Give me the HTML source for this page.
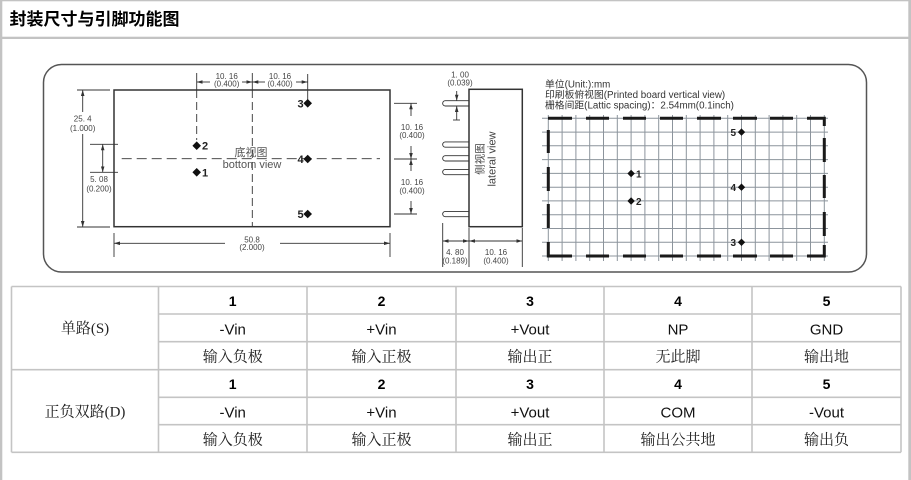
<!DOCTYPE html>
<html><head><meta charset="utf-8"><style>
html,body{margin:0;padding:0;background:#fff;}
body{width:911px;height:480px;overflow:hidden;position:relative;}
svg{position:absolute;left:0;top:0;}
.d{font-family:"Liberation Sans",sans-serif;font-size:8px;fill:#444;text-anchor:middle;}
.p{font-family:"Liberation Sans",sans-serif;font-size:11px;font-weight:bold;fill:#222;}
.n{font-family:"Liberation Sans",sans-serif;font-size:14px;font-weight:bold;fill:#000;text-anchor:middle;}
.t{font-family:"Liberation Sans",sans-serif;font-size:15px;fill:#111;text-anchor:middle;}
.c{font-family:"Liberation Serif","Noto Serif CJK SC",serif;font-size:15px;fill:#222;text-anchor:middle;}
.g{font-family:"Liberation Sans","Noto Sans CJK SC",sans-serif;font-size:9.8px;fill:#333;}
</style></head><body>
<svg width="911" height="480" viewBox="0 0 911 480" xmlns="http://www.w3.org/2000/svg">
<defs>
<marker id="a" viewBox="0 0 10 6" refX="10" refY="3" markerWidth="6" markerHeight="3.6" markerUnits="userSpaceOnUse" orient="auto-start-reverse"><path d="M0,0L10,3L0,6z" fill="#333"/></marker>
</defs>
<!-- frame -->
<rect x="0" y="0" width="2.3" height="480" fill="#c3c3c3"/>
<rect x="908.3" y="0" width="2.7" height="480" fill="#c3c3c3"/>
<rect x="0" y="0" width="911" height="1.3" fill="#c3c3c3"/>
<rect x="0" y="36.7" width="911" height="2.3" fill="#c3c3c3"/>
<text x="9.5" y="25" font-family="'Liberation Sans','Noto Sans CJK SC',sans-serif" font-size="17" font-weight="bold" fill="#000">封装尺寸与引脚功能图</text>

<!-- outer rounded box -->
<rect x="43.5" y="64.5" width="823" height="207.5" rx="18" ry="18" fill="none" stroke="#555" stroke-width="1.5"/>

<!-- bottom view module -->
<rect x="114" y="90" width="276" height="136.7" fill="none" stroke="#333" stroke-width="1.5"/>
<g stroke="#333" stroke-width="0.9" fill="none">
 <line x1="77" y1="90" x2="110" y2="90"/>
 <line x1="77" y1="227" x2="110" y2="227"/>
 <line x1="82.7" y1="112" x2="82.7" y2="90" marker-end="url(#a)"/>
 <line x1="82.7" y1="134" x2="82.7" y2="227" marker-end="url(#a)"/>
 <line x1="90" y1="144.3" x2="118" y2="144.3"/>
 <line x1="90" y1="172.3" x2="118" y2="172.3"/>
 <line x1="102.7" y1="144.3" x2="102.7" y2="172.3" marker-start="url(#a)" marker-end="url(#a)"/>
 <line x1="196.7" y1="73" x2="196.7" y2="90"/>
 <line x1="196.7" y1="90" x2="196.7" y2="140" stroke-dasharray="8 4"/>
 <line x1="252.3" y1="73" x2="252.3" y2="90"/>
 <line x1="252.3" y1="90" x2="252.3" y2="227" stroke-dasharray="8 4"/>
 <line x1="307.7" y1="74" x2="307.7" y2="103"/>
 <line x1="210" y1="82" x2="196.7" y2="82" marker-end="url(#a)"/>
 <line x1="242" y1="82" x2="252.3" y2="82" marker-end="url(#a)"/>
 <line x1="265" y1="82" x2="252.3" y2="82" marker-end="url(#a)"/>
 <line x1="296" y1="82" x2="307.7" y2="82" marker-end="url(#a)"/>
 <line x1="121.7" y1="158.7" x2="380" y2="158.7" stroke-dasharray="10 5"/>
 <line x1="394" y1="103.3" x2="417" y2="103.3"/>
 <line x1="394" y1="159" x2="417" y2="159"/>
 <line x1="394" y1="214" x2="417" y2="214"/>
 <line x1="411" y1="116" x2="411" y2="103.3" marker-end="url(#a)"/>
 <line x1="411" y1="146" x2="411" y2="159" marker-end="url(#a)"/>
 <line x1="411" y1="171" x2="411" y2="159" marker-end="url(#a)"/>
 <line x1="411" y1="201" x2="411" y2="214" marker-end="url(#a)"/>
 <line x1="114" y1="233" x2="114" y2="257"/>
 <line x1="390" y1="233" x2="390" y2="257"/>
 <line x1="225" y1="243.3" x2="114" y2="243.3" marker-end="url(#a)"/>
 <line x1="280" y1="243.3" x2="390" y2="243.3" marker-end="url(#a)"/>
</g>
<text class="d" x="82.7" y="121.5">25. 4</text>
<text class="d" x="82.7" y="131">(1.000)</text>
<text class="d" x="99" y="182">5. 08</text>
<text class="d" x="99" y="191.7">(0.200)</text>
<text class="d" x="226.7" y="79">10. 16</text>
<text class="d" x="226.7" y="86.5">(0.400)</text>
<text class="d" x="280" y="79">10. 16</text>
<text class="d" x="280" y="86.5">(0.400)</text>
<text class="d" x="412" y="130">10. 16</text>
<text class="d" x="412" y="138">(0.400)</text>
<text class="d" x="412" y="185">10. 16</text>
<text class="d" x="412" y="193.3">(0.400)</text>
<text class="d" x="252" y="242.7">50.8</text>
<text class="d" x="252" y="250">(2.000)</text>
<text x="251" y="156" font-family="'Liberation Sans','Noto Sans CJK SC',sans-serif" font-size="11" fill="#555" text-anchor="middle">底视图</text>
<text x="252" y="168" font-family="'Liberation Sans',sans-serif" font-size="11" fill="#555" text-anchor="middle">bottom view</text>
<g fill="#111">
 <polygon points="196.7,141.4 201,145.7 196.7,150 192.4,145.7"/><circle cx="196.7" cy="145.7" r="2.8"/>
 <polygon points="196.7,168 201,172.3 196.7,176.6 192.4,172.3"/><circle cx="196.7" cy="172.3" r="2.8"/>
 <polygon points="307.7,99 312,103.3 307.7,107.6 303.4,103.3"/><circle cx="307.7" cy="103.3" r="2.8"/>
 <polygon points="307.7,154.7 312,159 307.7,163.3 303.4,159"/><circle cx="307.7" cy="159" r="2.8"/>
 <polygon points="307.7,209.7 312,214 307.7,218.3 303.4,214"/><circle cx="307.7" cy="214" r="2.8"/>
</g>
<text class="p" x="202" y="149.5">2</text>
<text class="p" x="202" y="176.5">1</text>
<text class="p" x="297.5" y="107.5">3</text>
<text class="p" x="297.5" y="163">4</text>
<text class="p" x="297.5" y="218">5</text>

<!-- lateral view -->
<g stroke="#333" stroke-width="0.9" fill="#fff">
 <path d="M469,100.7 H445.3 A2.65,2.65 0 0 0 445.3,106 H469"/>
 <path d="M469,141.9 H445.3 A2.65,2.65 0 0 0 445.3,147.2 H469"/>
 <path d="M469,155.7 H445.3 A2.65,2.65 0 0 0 445.3,161 H469"/>
 <path d="M469,169.4 H445.3 A2.65,2.65 0 0 0 445.3,174.7 H469"/>
 <path d="M469,211.4 H445.3 A2.65,2.65 0 0 0 445.3,216.7 H469"/>
</g>
<rect x="469" y="89.3" width="53.3" height="137.4" fill="none" stroke="#333" stroke-width="1.5"/>
<g stroke="#333" stroke-width="0.9" fill="none">
 <line x1="456.7" y1="91" x2="456.7" y2="100.7" marker-end="url(#a)"/>
 <line x1="456.7" y1="120" x2="456.7" y2="106" marker-end="url(#a)"/>
 <line x1="453" y1="120" x2="460" y2="120"/>
 <line x1="442.7" y1="223" x2="442.7" y2="267"/>
 <line x1="469" y1="228" x2="469" y2="267"/>
 <line x1="522.3" y1="228" x2="522.3" y2="267"/>
 <line x1="442.7" y1="241" x2="469" y2="241" marker-start="url(#a)" marker-end="url(#a)"/>
 <line x1="469" y1="241" x2="522.3" y2="241" marker-start="url(#a)" marker-end="url(#a)"/>
</g>
<text class="d" x="460" y="77.5">1. 00</text>
<text class="d" x="460" y="85.5">(0.039)</text>
<text class="d" x="455" y="255">4. 80</text>
<text class="d" x="455" y="263.5">(0.189)</text>
<text class="d" x="496" y="255">10. 16</text>
<text class="d" x="496" y="263.5">(0.400)</text>
<text transform="translate(480.3,159) rotate(-90)" x="0" y="0" dominant-baseline="central" text-anchor="middle" font-family="'Liberation Sans','Noto Sans CJK SC',sans-serif" font-size="10.5" fill="#444">侧视图</text>
<text transform="translate(492.5,159) rotate(-90)" x="0" y="0" dominant-baseline="central" text-anchor="middle" font-family="'Liberation Sans',sans-serif" font-size="11" fill="#444">lateral view</text>

<!-- grid texts -->
<text class="g" x="545" y="87.5">单位(Unit:):mm</text>
<text class="g" x="545" y="98">印刷板俯视图(Printed board vertical view)</text>
<text class="g" x="545" y="108.5">栅格间距(Lattic spacing)：2.54mm(0.1inch)</text>

<!-- grid -->
<g stroke="#8c949c" stroke-width="1">
 <line x1="548.3" y1="115" x2="548.3" y2="261"/>
 <line x1="562.1" y1="115" x2="562.1" y2="261"/>
 <line x1="575.9" y1="115" x2="575.9" y2="261"/>
 <line x1="589.7" y1="115" x2="589.7" y2="261"/>
 <line x1="603.5" y1="115" x2="603.5" y2="261"/>
 <line x1="617.3" y1="115" x2="617.3" y2="261"/>
 <line x1="631.1" y1="115" x2="631.1" y2="261"/>
 <line x1="644.9" y1="115" x2="644.9" y2="261"/>
 <line x1="658.7" y1="115" x2="658.7" y2="261"/>
 <line x1="672.5" y1="115" x2="672.5" y2="261"/>
 <line x1="686.3" y1="115" x2="686.3" y2="261"/>
 <line x1="700.1" y1="115" x2="700.1" y2="261"/>
 <line x1="713.9" y1="115" x2="713.9" y2="261"/>
 <line x1="727.7" y1="115" x2="727.7" y2="261"/>
 <line x1="741.5" y1="115" x2="741.5" y2="261"/>
 <line x1="755.3" y1="115" x2="755.3" y2="261"/>
 <line x1="769.1" y1="115" x2="769.1" y2="261"/>
 <line x1="782.9" y1="115" x2="782.9" y2="261"/>
 <line x1="796.7" y1="115" x2="796.7" y2="261"/>
 <line x1="810.5" y1="115" x2="810.5" y2="261"/>
 <line x1="824.3" y1="115" x2="824.3" y2="261"/>
 <line x1="542" y1="118.3" x2="828" y2="118.3"/>
 <line x1="542" y1="132.1" x2="828" y2="132.1"/>
 <line x1="542" y1="145.8" x2="828" y2="145.8"/>
 <line x1="542" y1="159.6" x2="828" y2="159.6"/>
 <line x1="542" y1="173.4" x2="828" y2="173.4"/>
 <line x1="542" y1="187.2" x2="828" y2="187.2"/>
 <line x1="542" y1="200.9" x2="828" y2="200.9"/>
 <line x1="542" y1="214.7" x2="828" y2="214.7"/>
 <line x1="542" y1="228.5" x2="828" y2="228.5"/>
 <line x1="542" y1="242.3" x2="828" y2="242.3"/>
 <line x1="542" y1="256" x2="828" y2="256"/>
</g>
<g stroke="#1a1a1a" stroke-width="3" fill="none">
 <path d="M548,118.3H572M586,118.3H609M623,118.3H646M660,118.3H683M697,118.3H721M733,118.3H757M770,118.3H793M807,118.3H824.3V126"/>
 <path d="M548,256H572M586,256H609M623,256H646M660,256H683M697,256H721M733,256H757M770,256H793M807,256H824.3V245"/>
 <path d="M548.3,130V153M548.3,167V191M548.3,204V228M548.3,242V257.5"/>
 <path d="M824.3,138V162M824.3,175V198M824.3,212V236"/>
</g>
<g fill="#111">
 <polygon points="631.1,169.8 634.8,173.5 631.1,177.2 627.4,173.5"/><circle cx="631.1" cy="173.5" r="2.4"/>
 <polygon points="631.1,197.3 634.8,201 631.1,204.7 627.4,201"/><circle cx="631.1" cy="201" r="2.4"/>
 <polygon points="741.5,128.4 745.2,132.1 741.5,135.8 737.8,132.1"/><circle cx="741.5" cy="132.1" r="2.4"/>
 <polygon points="741.5,183.5 745.2,187.2 741.5,190.9 737.8,187.2"/><circle cx="741.5" cy="187.2" r="2.4"/>
 <polygon points="741.5,238.6 745.2,242.3 741.5,246 737.8,242.3"/><circle cx="741.5" cy="242.3" r="2.4"/>
</g>
<g font-family="'Liberation Sans',sans-serif" font-size="10" font-weight="bold" fill="#222">
 <text x="636" y="177.3">1</text>
 <text x="636" y="204.8">2</text>
 <text x="730.5" y="135.9">5</text>
 <text x="730.5" y="191">4</text>
 <text x="730.5" y="246.1">3</text>
</g>

<!-- table -->
<g stroke="#c4c4c4" stroke-width="1.6">
 <line x1="11.5" y1="286.5" x2="901" y2="286.5"/>
 <line x1="158.5" y1="314" x2="901" y2="314"/>
 <line x1="158.5" y1="341.7" x2="901" y2="341.7"/>
 <line x1="11.5" y1="369.7" x2="901" y2="369.7"/>
 <line x1="158.5" y1="397.3" x2="901" y2="397.3"/>
 <line x1="158.5" y1="424.7" x2="901" y2="424.7"/>
 <line x1="11.5" y1="452.3" x2="901" y2="452.3"/>
 <line x1="11.5" y1="286.5" x2="11.5" y2="452.3"/>
 <line x1="158.5" y1="286.5" x2="158.5" y2="452.3"/>
 <line x1="307" y1="286.5" x2="307" y2="452.3"/>
 <line x1="456" y1="286.5" x2="456" y2="452.3"/>
 <line x1="604" y1="286.5" x2="604" y2="452.3"/>
 <line x1="752" y1="286.5" x2="752" y2="452.3"/>
 <line x1="901" y1="286.5" x2="901" y2="452.3"/>
</g>
<text class="c" x="85" y="333">单路(S)</text>
<text class="c" x="85" y="416.5">正负双路(D)</text>

<text class="n" x="232.7" y="306">1</text>
<text class="n" x="381.5" y="306">2</text>
<text class="n" x="530" y="306">3</text>
<text class="n" x="678" y="306">4</text>
<text class="n" x="826.5" y="306">5</text>
<text class="t" x="232.7" y="334.5">-Vin</text>
<text class="t" x="381.5" y="334.5">+Vin</text>
<text class="t" x="530" y="334.5">+Vout</text>
<text class="t" x="678" y="334.5">NP</text>
<text class="t" x="826.5" y="334.5">GND</text>
<text class="c" x="232.7" y="361.5">输入负极</text>
<text class="c" x="381.5" y="361.5">输入正极</text>
<text class="c" x="530" y="361.5">输出正</text>
<text class="c" x="678" y="361.5">无此脚</text>
<text class="c" x="826.5" y="361.5">输出地</text>

<text class="n" x="232.7" y="389.2">1</text>
<text class="n" x="381.5" y="389.2">2</text>
<text class="n" x="530" y="389.2">3</text>
<text class="n" x="678" y="389.2">4</text>
<text class="n" x="826.5" y="389.2">5</text>
<text class="t" x="232.7" y="417.5">-Vin</text>
<text class="t" x="381.5" y="417.5">+Vin</text>
<text class="t" x="530" y="417.5">+Vout</text>
<text class="t" x="678" y="417.5">COM</text>
<text class="t" x="826.5" y="417.5">-Vout</text>
<text class="c" x="232.7" y="444.5">输入负极</text>
<text class="c" x="381.5" y="444.5">输入正极</text>
<text class="c" x="530" y="444.5">输出正</text>
<text class="c" x="678" y="444.5">输出公共地</text>
<text class="c" x="826.5" y="444.5">输出负</text>
</svg>
</body></html>
